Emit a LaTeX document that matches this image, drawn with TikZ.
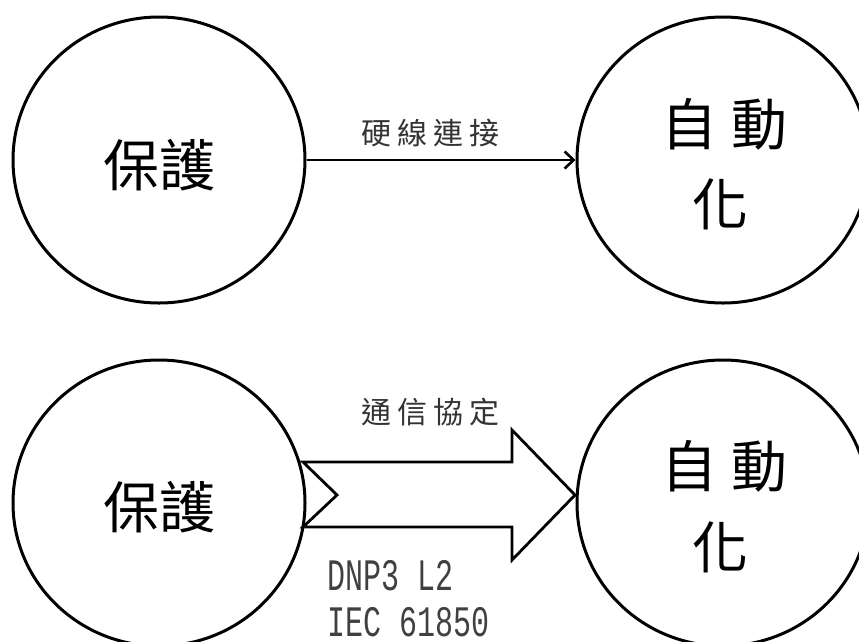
\documentclass[tikz,border=0pt]{standalone}
\usepackage{fontspec}
\newfontfamily\cjk{Noto Sans CJK TC}
\newfontfamily\monof{Liberation Mono}
\usetikzlibrary{shapes.geometric,arrows.meta}
\begin{document}
\begin{tikzpicture}[x=1pt,y=-1pt,
  circ/.style={draw,line width=3pt,ellipse,minimum width=292pt,minimum height=286pt,inner sep=0pt},
  big/.style={font=\cjk\fontsize{56}{60}\selectfont,inner sep=0pt},
  lbl/.style={font=\cjk\fontsize{30}{32}\selectfont,text=black!80,inner sep=0pt},
  mono/.style={font=\monof\fontsize{30}{40}\selectfont,text=black!75,inner sep=0pt,align=left,anchor=north west}
]
\useasboundingbox (0,0) rectangle (859,641);
\clip (0,0) rectangle (859,641);
% top row
\node[circ] (p1) at (159,160) {};
\node[big] (p1t) at (159,165) {保護};
\node[circ] (a1) at (723,160) {};
\node[big] (a1t) at (724,124) {自\hspace{14pt}動};
\node[big] (a1u) at (720,204) {化};
\draw[line width=2.8pt,-{Straight Barb[length=9pt,width=17pt,line width=2.6pt]}] (p1) -- (a1);
\node[lbl] (l1) at (430,133) {硬\hspace{6pt}線\hspace{6pt}連\hspace{6pt}接};
% bottom row
\node[circ] (p2) at (159,503) {};
\node[big] (p2t) at (159,507) {保護};
\node[circ] (a2) at (723,503) {};
\node[big] (a2t) at (724,466) {自\hspace{14pt}動};
\node[big] (a2u) at (720,547) {化};
\coordinate (t1) at (303,462);
\coordinate (h1) at (512,462);
\coordinate (h2) at (512,430);
\coordinate (tip) at (575,495);
\coordinate (h3) at (512,560);
\coordinate (h4) at (512,527);
\coordinate (t2) at (303,527);
\coordinate (notch) at (337,495);
\draw[line width=2.8pt,line join=miter] (t1) -- (h1) -- (h2) -- (tip) -- (h3) -- (h4) -- (t2) -- (notch) -- cycle;
\node[lbl] (l2) at (430,412) {通\hspace{6pt}信\hspace{6pt}協\hspace{6pt}定};
\node[mono] (m1) at (327,560) {\scalebox{1}[1.5]{DNP3 L2}\\[6pt]\raisebox{0pt}[\height][0pt]{\scalebox{1}[1.45]{IEC 61850}}};
\end{tikzpicture}
\end{document}
